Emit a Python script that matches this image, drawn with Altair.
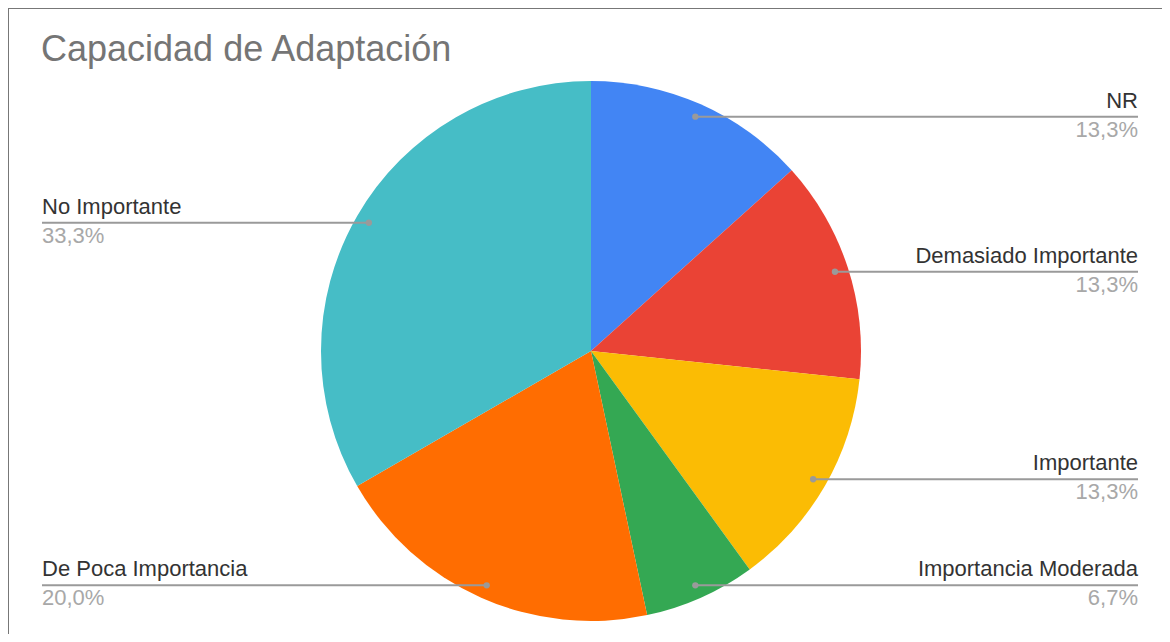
import numpy as np
import pandas as pd
import altair as alt

categories = ["NR", "Demasiado Importante", "Importante", "Importancia Moderada",
              "De Poca Importancia", "No Importante"]
counts = [2, 2, 2, 1, 3, 5]
colors = ["#4285F4", "#EA4335", "#FBBC04", "#34A853", "#FF6D01", "#46BDC6"]

W, H = 1154, 626
CX, CY, R = 583, 343, 270
DOT_F = 0.95
RIGHT_X, LEFT_X = 1130, 34

total = sum(counts)
frac = np.array(counts) / total
ends = np.cumsum(frac)
mids = ends - frac / 2
ang = mids * 2 * np.pi
dot_x = CX + DOT_F * R * np.sin(ang)
dot_y = CY - DOT_F * R * np.cos(ang)
side = np.where(np.sin(ang) >= 0, "right", "left")

df = pd.DataFrame({
    "cat": categories,
    "n": counts,
    "idx": list(range(len(categories))),
    "pct": [f"{v * 100:.1f}%".replace(".", ",") for v in frac],
    "dx": dot_x,
    "dy": dot_y,
    "side": side,
    "lx": np.where(side == "right", RIGHT_X, LEFT_X),
})

xs = alt.Scale(domain=[0, W], nice=False, zero=False)
ys = alt.Scale(domain=[0, H], nice=False, zero=False, reverse=True)
X = alt.X("dx:Q", scale=xs, axis=None)
Y = alt.Y("dy:Q", scale=ys, axis=None)

base = alt.Chart(df)

pie = base.mark_arc(outerRadius=R, stroke=None).encode(
    theta=alt.Theta("n:Q", stack=True),
    order=alt.Order("idx:Q", sort="ascending"),
    color=alt.Color("cat:N", scale=alt.Scale(domain=categories, range=colors), legend=None),
    x=alt.value(CX),
    y=alt.value(CY),
)

lines = base.mark_rule(color="#9a9a9a", strokeWidth=2).encode(
    x=X, x2="lx:Q", y=Y,
)

dots = base.mark_circle(color="#9a9a9a", size=40, opacity=1).encode(x=X, y=Y)

FONT = "Liberation Sans"

def labels(which, align):
    sub = base.transform_filter(alt.datum.side == which)
    name = sub.mark_text(align=align, baseline="bottom", dy=-4, fontSize=22,
                         font=FONT, color="#333333").encode(
        x=alt.X("lx:Q", scale=xs, axis=None), y=Y, text="cat:N")
    pct = sub.mark_text(align=align, baseline="top", dy=3, fontSize=22,
                        font=FONT, color="#a8a8a8").encode(
        x=alt.X("lx:Q", scale=xs, axis=None), y=Y, text="pct:N")
    return name + pct

border = pd.DataFrame({"x0": [0, 0], "x1": [W, 0], "y0": [0, 0], "y1": [0, H]})
bt = alt.Chart(border).mark_rule(strokeWidth=2, color="#777777").encode(
    x=alt.X("x0:Q", scale=xs, axis=None), x2="x1:Q",
    y=alt.Y("y0:Q", scale=ys, axis=None), y2="y1:Q",
)

chart = alt.layer(
    pie, lines, dots, labels("right", "right"), labels("left", "left"), bt
).properties(
    width=W, height=H,
    autosize=alt.AutoSizeParams(type="none"),
    padding=0,
    title=alt.Title("Capacidad de Adaptación", anchor="start", fontSize=36,
                    font=FONT, fontWeight="normal", color="#757575",
                    baseline="alphabetic", offset=0, dx=34, dy=90),
).configure_view(stroke=None)

chart.save("out.html", embed_options={"renderer": "svg", "actions": False})
